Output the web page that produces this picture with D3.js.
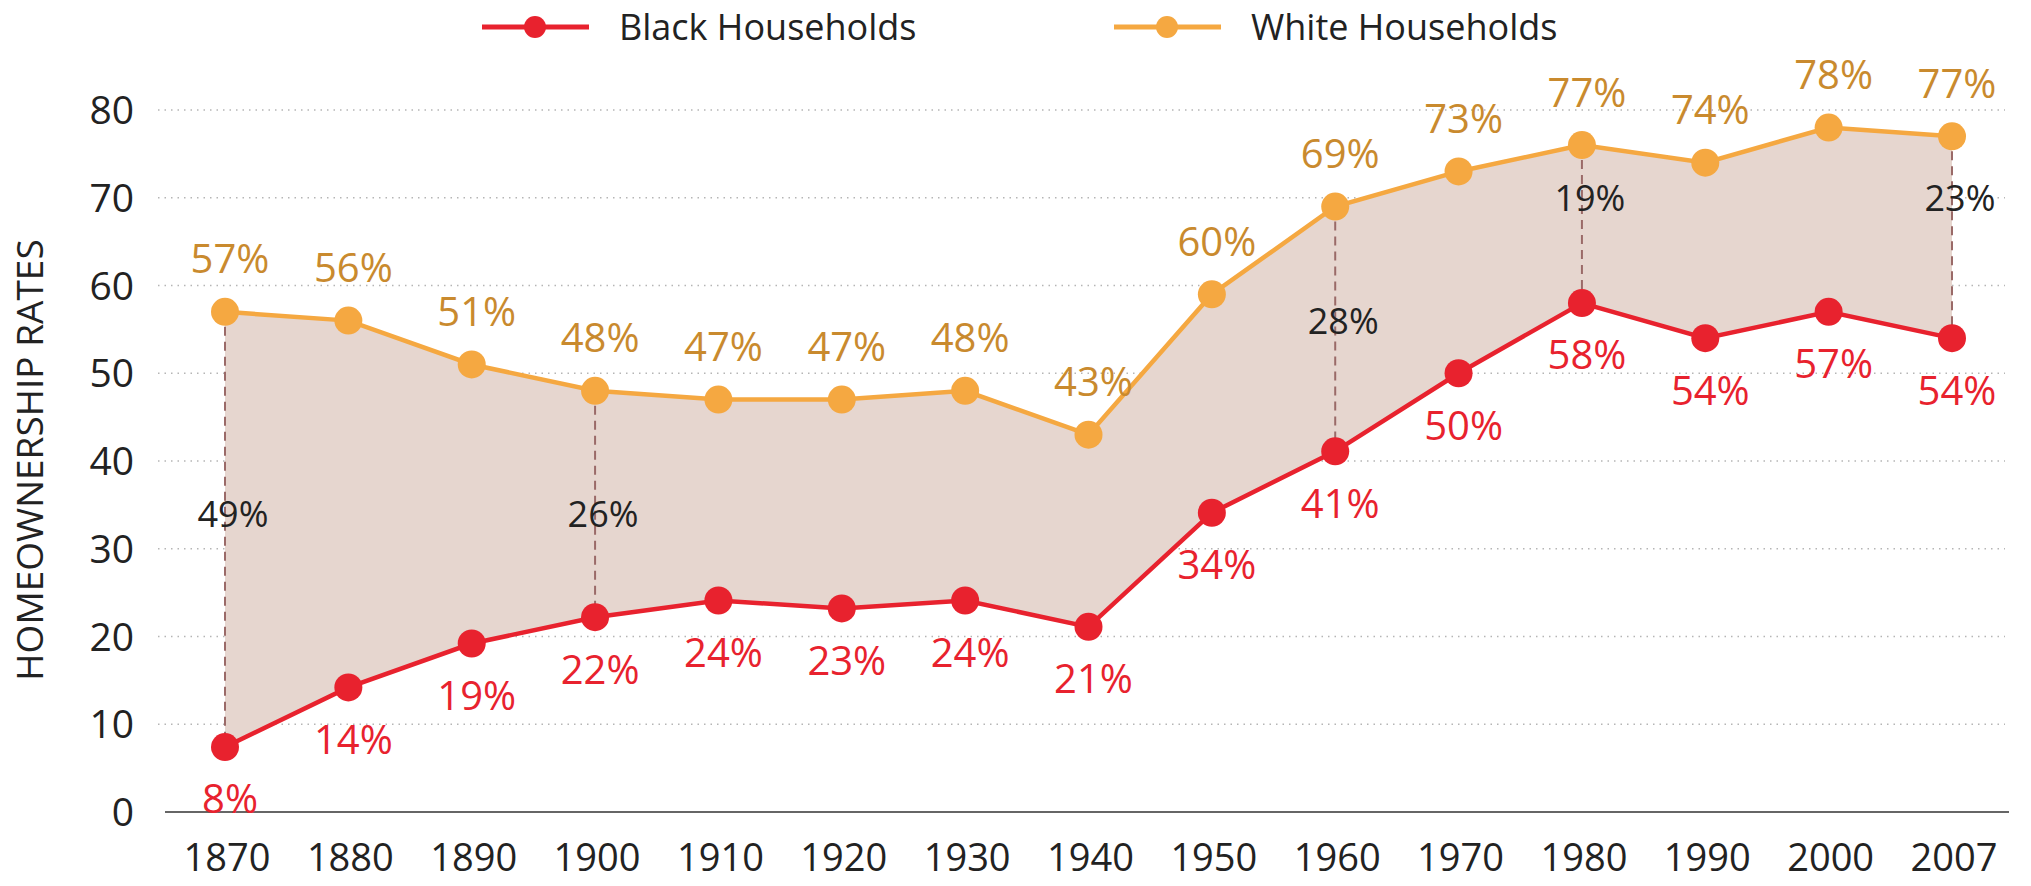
<!DOCTYPE html>
<html>
<head>
<meta charset="utf-8">
<script src="https://cdn.jsdelivr.net/npm/d3@7"></script>
<style>
  body { margin: 0; background: #fff; }
  svg text { font-family: "Open Sans", Lato, sans-serif; }
</style>
</head>
<body>
<svg id="chart"></svg>
<script>
var width = 2031
var height = 886

// data
var years = ["1870","1880","1890","1900","1910","1920","1930","1940","1950","1960","1970","1980","1990","2000","2007"]
var whiteValues = [57, 56, 51, 48, 47, 47, 48, 43, 59, 69, 73, 76, 74, 78, 77]
var blackValues = [7.4, 14.2, 19.2, 22.2, 24.1, 23.2, 24.1, 21.1, 34.1, 41.1, 50, 58, 54, 57, 54]
var whiteLabels = ["57%","56%","51%","48%","47%","47%","48%","43%","60%","69%","73%","77%","74%","78%","77%"]
var blackLabels = ["8%","14%","19%","22%","24%","23%","24%","21%","34%","41%","50%","58%","54%","57%","54%"]
var gapYears = ["1870","1900","1960","1980","2007"]
var gapLabels = ["49%","26%","28%","19%","23%"]
var gapLabelValues = [34, 34, 56, 70, 70]
var yTicks = [0, 10, 20, 30, 40, 50, 60, 70, 80]

var svg = d3.select("#chart")
    .attr("width", width)
    .attr("height", height)

var x = d3.scalePoint()
    .domain(years)
    .range([225, 1952])

var y = d3.scaleLinear()
    .domain([0, 80])
    .range([812, 110])

// grid lines
svg.append("g").selectAll("line")
  .data(yTicks.filter(function(d){ return d > 0 }))
  .enter().append("line")
    .attr("x1", 158)
    .attr("x2", 2005)
    .attr("y1", function(d){ return y(d) })
    .attr("y2", function(d){ return y(d) })
    .attr("stroke", "#b5b5b5")
    .attr("stroke-width", 1.5)
    .attr("stroke-dasharray", "1.5,5")

// baseline
svg.append("line")
    .attr("x1", 165).attr("x2", 2009)
    .attr("y1", y(0)).attr("y2", y(0))
    .attr("stroke", "#666")
    .attr("stroke-width", 2)

// y tick labels
svg.append("g").selectAll("text")
  .data(yTicks)
  .enter().append("text")
    .attr("x", 134)
    .attr("y", function(d){ return y(d) })
    .attr("dy", "0.36em")
    .attr("text-anchor", "end")
    .attr("font-size", 39)
    .attr("fill", "#222")
    .text(function(d){ return d })

// x labels
svg.append("g").selectAll("text")
  .data(years)
  .enter().append("text")
    .attr("x", function(d){ return x(d) + 2 })
    .attr("y", 857)
    .attr("dy", "0.36em")
    .attr("text-anchor", "middle")
    .attr("font-size", 38)
    .attr("fill", "#222")
    .text(function(d){ return d })

// y title
svg.append("text")
    .attr("transform", "translate(30,460) rotate(-90)")
    .attr("dy", "0.36em")
    .attr("text-anchor", "middle")
    .attr("font-size", 37)
    .attr("fill", "#222")
    .text("HOMEOWNERSHIP RATES")

// gap area
var area = d3.area()
    .x(function(d, i){ return x(years[i]) })
    .y0(function(d, i){ return y(blackValues[i]) })
    .y1(function(d){ return y(d) })

svg.append("path")
    .datum(whiteValues)
    .attr("d", area)
    .attr("fill", "#e6d6cf")

// dashed gap markers
svg.append("g").selectAll("line")
  .data(gapYears)
  .enter().append("line")
    .attr("x1", function(d){ return x(d) })
    .attr("x2", function(d){ return x(d) })
    .attr("y1", function(d){ return y(whiteValues[years.indexOf(d)]) })
    .attr("y2", function(d){ return y(blackValues[years.indexOf(d)]) })
    .attr("stroke", "#9a6a68")
    .attr("stroke-width", 2)
    .attr("stroke-dasharray", "9,6")

svg.append("g").selectAll("text")
  .data(gapLabels)
  .enter().append("text")
    .attr("x", function(d, i){ return x(gapYears[i]) + 8 })
    .attr("y", function(d, i){ return y(gapLabelValues[i]) })
    .attr("dy", "0.36em")
    .attr("text-anchor", "middle")
    .attr("font-size", 36)
    .attr("fill", "#222")
    .text(function(d){ return d })

var line = d3.line()
    .x(function(d, i){ return x(years[i]) })
    .y(function(d){ return y(d) })

var series = [
  {values: blackValues, labels: blackLabels, line: "#e8222e", text: "#e8222e", off: 52},
  {values: whiteValues, labels: whiteLabels, line: "#f5a841", text: "#c98a2e", off: -53}
]

series.forEach(function(s){
  svg.append("path")
    .datum(s.values)
    .attr("d", line)
    .attr("fill", "none")
    .attr("stroke", s.line)
    .attr("stroke-width", 4.5)

  svg.append("g").selectAll("circle")
    .data(s.values)
    .enter().append("circle")
      .attr("cx", function(d, i){ return x(years[i]) })
      .attr("cy", function(d){ return y(d) })
      .attr("r", 14)
      .attr("fill", s.line)

  svg.append("g").selectAll("text")
    .data(s.labels)
    .enter().append("text")
      .attr("x", function(d, i){ return x(years[i]) + 5 })
      .attr("y", function(d, i){ return y(s.values[i]) + s.off })
      .attr("dy", "0.36em")
      .attr("text-anchor", "middle")
      .attr("font-size", 40)
      .attr("fill", s.text)
      .text(function(d){ return d })
})

// legend
var legend = [
  {name: "Black Households", color: "#e8222e", x: 482},
  {name: "White Households", color: "#f5a841", x: 1114}
]
var lg = svg.append("g").selectAll("g")
  .data(legend)
  .enter().append("g")
    .attr("transform", function(d){ return "translate(" + d.x + ",27)" })
lg.append("line")
    .attr("x1", 0).attr("x2", 107)
    .attr("stroke", function(d){ return d.color })
    .attr("stroke-width", 5)
lg.append("circle")
    .attr("cx", 53).attr("r", 11)
    .attr("fill", function(d){ return d.color })
lg.append("text")
    .attr("x", 137)
    .attr("dy", "0.36em")
    .attr("font-size", 36)
    .attr("fill", "#222")
    .text(function(d){ return d.name })
</script>
</body>
</html>
